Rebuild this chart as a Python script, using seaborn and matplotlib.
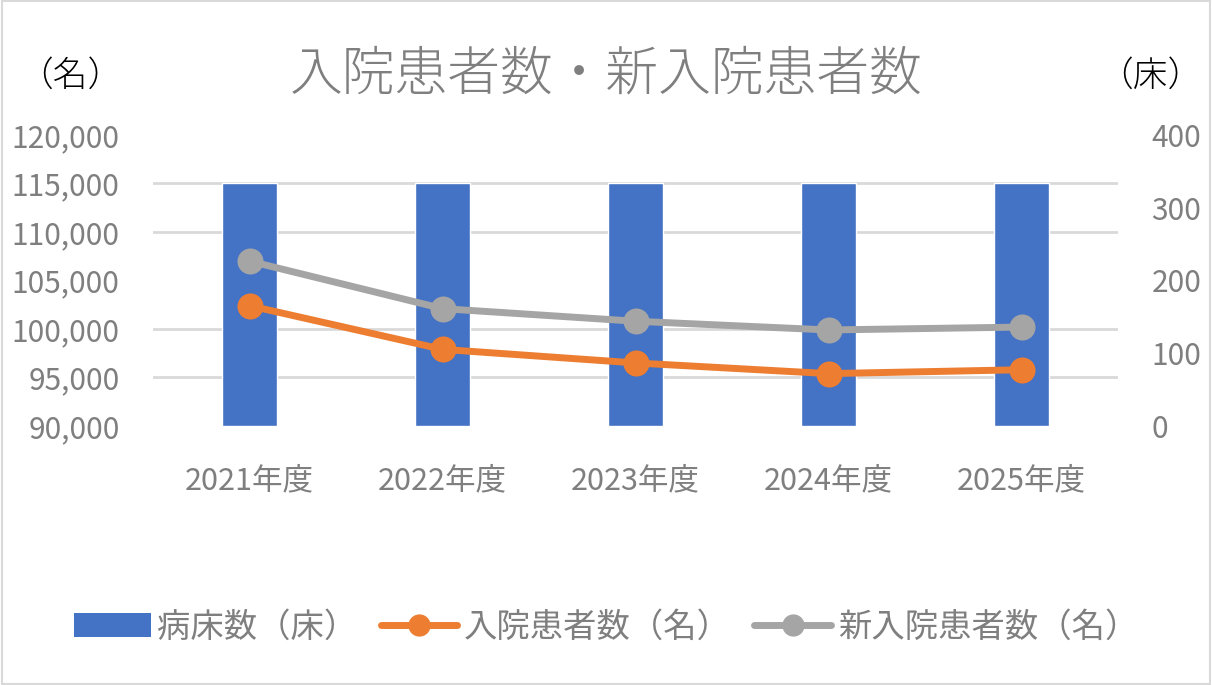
import matplotlib
matplotlib.use("Agg")
import matplotlib.pyplot as plt
import seaborn as sns
import pandas as pd
from matplotlib.ticker import MultipleLocator, FuncFormatter
from matplotlib.lines import Line2D
from matplotlib.patches import Patch, Rectangle

years = ["2021年度", "2022年度", "2023年度", "2024年度", "2025年度"]
beds = [334, 334, 334, 334, 334]
inpatients = [102400, 97900, 96500, 95400, 95800]
new_inpatients = [107000, 102100, 100800, 99900, 100200]

BLUE = "#4472C4"
ORANGE = "#ED7D31"
GRAY = "#A5A5A5"
TEXT = "#7F7F7F"
GRID = "#D9D9D9"

sns.set_theme(style="white")
plt.rcParams["font.family"] = ["Noto Sans CJK JP", "DejaVu Sans"]

df = pd.DataFrame({"year": years, "beds": beds, "inp": inpatients, "new": new_inpatients})

fig = plt.figure(figsize=(12.12, 6.85), dpi=100)
fig.patches.append(Rectangle((0.002, 0.002), 0.996, 0.996, transform=fig.transFigure,
                             fill=False, edgecolor=GRID, linewidth=1.5))
ax_bar = fig.add_axes([153 / 1212, 1 - 426 / 685, (1118 - 153) / 1212, (426 - 135) / 685])
ax_line = ax_bar.twinx()

sns.barplot(data=df, x="year", y="beds", ax=ax_bar, color=BLUE, width=0.285, saturation=1)
ax_bar.set_ylim(0, 400)
ax_bar.set_xlim(-0.5, 4.5)
ax_bar.yaxis.set_major_locator(MultipleLocator(100))
ax_bar.yaxis.set_minor_locator(MultipleLocator(400 / 6))
ax_bar.grid(which="minor", axis="y", color=GRID, linewidth=2)
ax_bar.grid(which="major", axis="y", visible=False)
ax_bar.set_axisbelow(True)
ax_bar.yaxis.tick_right()
ax_bar.tick_params(axis="y", which="both", length=0, pad=24, labelsize=21.5, labelcolor=TEXT)
ax_bar.tick_params(axis="x", length=0, pad=28, labelsize=22, labelcolor=TEXT)
ax_bar.set_xlabel("")
ax_bar.set_ylabel("")

sns.pointplot(data=df, x="year", y="new", ax=ax_line, color=GRAY, markers="o",
              linewidth=5, markersize=15)
sns.pointplot(data=df, x="year", y="inp", ax=ax_line, color=ORANGE, markers="o",
              linewidth=5, markersize=15)
ax_line.set_ylim(90000, 120000)
ax_line.set_xlim(-0.5, 4.5)
ax_line.yaxis.set_major_locator(MultipleLocator(5000))
ax_line.yaxis.set_major_formatter(FuncFormatter(lambda v, p: f"{int(v):,}"))
ax_line.yaxis.tick_left()
ax_line.tick_params(axis="y", length=0, pad=24, labelsize=21.5, labelcolor=TEXT)
ax_line.set_xlabel("")
ax_line.set_ylabel("")
ax_line.grid(False)

for a in (ax_bar, ax_line):
    for s in a.spines.values():
        s.set_visible(False)

fig.text(0.5, 1 - 75 / 685, "入院患者数・新入院患者数", ha="center", va="center",
         fontsize=38, color=TEXT, fontweight="light")
fig.text(70 / 1212, 1 - 76 / 685, "（名）", ha="center", va="center", fontsize=25,
         color="black", fontweight="light")
fig.text(1150 / 1212, 1 - 76 / 685, "（床）", ha="center", va="center", fontsize=25,
         color="black", fontweight="light")

handles = [
    Patch(facecolor=BLUE, edgecolor="none"),
    Line2D([0], [0], color=ORANGE, lw=5, marker="o", markersize=15),
    Line2D([0], [0], color=GRAY, lw=5, marker="o", markersize=15),
]
labels = ["病床数（床）", "入院患者数（名）", "新入院患者数（名）"]
fig.legend(handles, labels, loc="center", bbox_to_anchor=(0.5, 1 - 627 / 685), ncol=3,
           frameon=False, fontsize=24, labelcolor=TEXT, handlelength=2.3,
           handletextpad=0.2, columnspacing=0.7)

fig.savefig("out.png", dpi=100)
